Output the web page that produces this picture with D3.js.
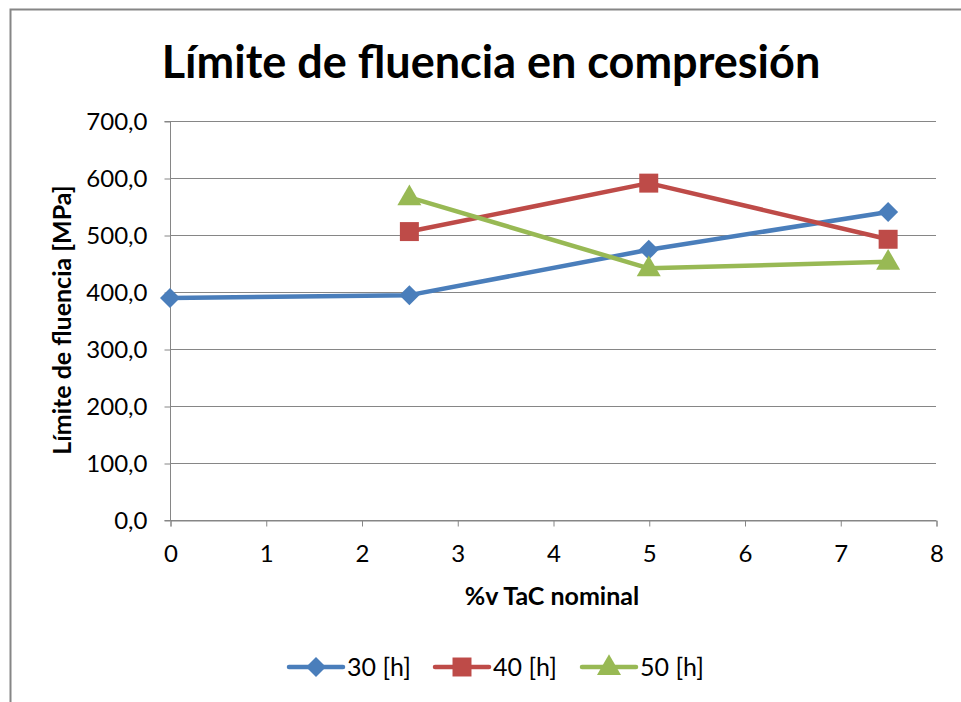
<!DOCTYPE html>
<html>
<head>
<meta charset="utf-8">
<script src="https://cdn.jsdelivr.net/npm/d3@7"></script>
<style>
  html, body { margin: 0; padding: 0; background: #fff; }
  svg { display: block; }
  text { font-family: Lato, "Open Sans", sans-serif; fill: #000; }
</style>
</head>
<body>
<script>
// Yield strength in compression vs nominal TaC volume fraction
const xTicks = [0, 1, 2, 3, 4, 5, 6, 7, 8];
const yTicks = [0, 100, 200, 300, 400, 500, 600, 700];

const s30x = [0, 2.5, 5, 7.5];
const s30y = [389.5, 394.5, 474, 540.5];
const s40x = [2.5, 5, 7.5];
const s40y = [506, 591, 492.5];
const s50x = [2.5, 5, 7.5];
const s50y = [566, 441.5, 453];

const seriesNames = ["30 [h]", "40 [h]", "50 [h]"];
const seriesColors = ["#4a7ebb", "#be4b48", "#98b954"];
const seriesSymbols = [d3.symbolSquare, d3.symbolSquare, d3.symbolTriangle];
const symSize = [200, 360, 250];
const symRotate = [45, 0, 0];
const symDy = [0, 0, 1];

const series = [
  { name: seriesNames[0], xs: s30x, ys: s30y },
  { name: seriesNames[1], xs: s40x, ys: s40y },
  { name: seriesNames[2], xs: s50x, ys: s50y }
];

const W = 961, H = 702;
const svg = d3.select("body").append("svg").attr("width", W).attr("height", H);

// chart frame
svg.append("path")
  .attr("d", "M10.5,720 V9.5 H980")
  .attr("fill", "none").attr("stroke", "#868686").attr("stroke-width", 2);

const x = d3.scaleLinear().domain([0, 8]).range([170, 936]);
const y = d3.scaleLinear().domain([0, 700]).range([520, 121]);

// horizontal gridlines
svg.append("g").selectAll("line").data(yTicks).join("line")
  .attr("x1", x(0)).attr("x2", x(8))
  .attr("y1", d => y(d) + 0.5).attr("y2", d => y(d) + 0.5)
  .attr("stroke", "#868686").attr("stroke-width", 1);

const fmt = d => d3.format(".1f")(d).replace(".", ",");

const yAxis = svg.append("g").attr("transform", `translate(${x(0) + 0.5},0.5)`)
  .call(d3.axisLeft(y).tickValues(yTicks).tickFormat(fmt).tickSize(6).tickPadding(16));
const xAxis = svg.append("g").attr("transform", `translate(0.5,${y(0) + 0.5})`)
  .call(d3.axisBottom(x).tickValues(xTicks).tickSize(6).tickPadding(18));

[yAxis, xAxis].forEach(g => {
  g.select(".domain").attr("stroke", "#868686").attr("stroke-width", 1);
  g.selectAll(".tick line").attr("stroke", "#868686");
  g.selectAll(".tick text").style("font-family", "Lato, sans-serif").style("font-size", "24px").attr("fill", "#000");
});
yAxis.selectAll(".tick text").attr("x", -23);
yAxis.select(".domain").attr("d", `M-6,${y(0)}H0V${y(700)}H-6`);

// lines and markers
const line = d3.line().x(d => x(d[0])).y(d => y(d[1]));
series.forEach((s, i) => {
  const pts = s.xs.map((v, k) => [v, s.ys[k]]);
  svg.append("path").datum(pts)
    .attr("d", line).attr("fill", "none")
    .attr("stroke", seriesColors[i]).attr("stroke-width", 4.5)
    .attr("stroke-linejoin", "round").attr("stroke-linecap", "round");
});
series.forEach((s, i) => {
  const pts = s.xs.map((v, k) => [v, s.ys[k]]);
  svg.append("g").selectAll("path").data(pts).join("path")
    .attr("transform", d => `translate(${x(d[0])},${y(d[1]) + symDy[i]}) rotate(${symRotate[i]})`)
    .attr("d", d3.symbol().type(seriesSymbols[i]).size(symSize[i]))
    .attr("fill", seriesColors[i]);
});

// title
svg.append("text").attr("x", 491).attr("y", 78).attr("text-anchor", "middle")
  .style("font-size", "45px").style("font-weight", "bold")
  .text("Límite de fluencia en compresión");

// axis titles
svg.append("text").attr("x", 552).attr("y", 605).attr("text-anchor", "middle")
  .style("font-size", "25px").style("font-weight", "bold")
  .text("%v TaC nominal");
svg.append("text").attr("transform", "translate(71,320) rotate(-90)").attr("text-anchor", "middle")
  .style("font-size", "25px").style("font-weight", "bold")
  .text("Límite de fluencia [MPa]");

// legend
const legX = [289, 435, 582];
const legY = 667;
const leg = svg.append("g");
series.forEach((s, i) => {
  const g = leg.append("g").attr("transform", `translate(${legX[i]},${legY})`);
  g.append("line").attr("x1", 0).attr("x2", 54).attr("y1", 0).attr("y2", 0)
    .attr("stroke", seriesColors[i]).attr("stroke-width", 4.5).attr("stroke-linecap", "round");
  g.append("path").attr("transform", `translate(27,${symDy[i]}) rotate(${symRotate[i]})`)
    .attr("d", d3.symbol().type(seriesSymbols[i]).size(symSize[i]))
    .attr("fill", seriesColors[i]);
  g.append("text").attr("x", 58).attr("y", 9).style("font-size", "25px").text(s.name);
});
</script>
</body>
</html>
